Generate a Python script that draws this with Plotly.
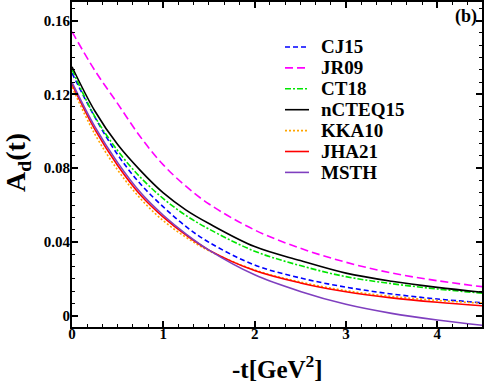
import plotly.graph_objects as go

# -t values [GeV^2]
t = [0, 0.25, 0.5, 0.75, 1.0, 1.25, 1.5, 2.0, 2.5, 3.0, 3.5, 4.0, 4.5]

cj15 = [0.1315, 0.1077, 0.0873, 0.0714, 0.0590, 0.0483, 0.0398, 0.0275, 0.0205, 0.0155, 0.0118, 0.0091, 0.0070]
jr09 = [0.1540, 0.1330, 0.1150, 0.0969, 0.0818, 0.0701, 0.0606, 0.0465, 0.0366, 0.0290, 0.0232, 0.0190, 0.0157]
ct18 = [0.1335, 0.1080, 0.0895, 0.0750, 0.0635, 0.0543, 0.0470, 0.0350, 0.0272, 0.0212, 0.0174, 0.0145, 0.0122]
ncteq15 = [0.1350, 0.1110, 0.0928, 0.0787, 0.0666, 0.0573, 0.0500, 0.0375, 0.0299, 0.0231, 0.0187, 0.0154, 0.0127]
kka10 = [0.1240, 0.0985, 0.0790, 0.0635, 0.0515, 0.0425, 0.0352, 0.0248, 0.0183, 0.0136, 0.0105, 0.0083, 0.0068]
jha21 = [0.1255, 0.1010, 0.0815, 0.0655, 0.0535, 0.0437, 0.0356, 0.0245, 0.0178, 0.0130, 0.0097, 0.0073, 0.0054]
msth = [0.1265, 0.1025, 0.0830, 0.0668, 0.0545, 0.0443, 0.0356, 0.0222, 0.0132, 0.0062, 0.0013, -0.0023, -0.0052]

x_ticks = [0, 1, 2, 3, 4]
x_ticktext = ["0", "1", "2", "3", "4"]
y_ticks = [0, 0.04, 0.08, 0.12, 0.16]
y_ticktext = ["0", "0.04", "0.08", "0.12", "0.16"]

series = [
    ("CJ15", cj15, "#0000ff", "5px,3px"),
    ("JR09", jr09, "#ff00ff", "8px,4px"),
    ("CT18", ct18, "#00e600", "6px,2px,2px,2px"),
    ("nCTEQ15", ncteq15, "#000000", "solid"),
    ("KKA10", kka10, "#ffa500", "2px,2px"),
    ("JHA21", jha21, "#ff0000", "solid"),
    ("MSTH", msth, "#7f3fbf", "solid"),
]

serif = "Liberation Serif, Times New Roman, serif"

# plot area in pixels: left 72, right 482, top 2, bottom 327
L, R, T, B = 72, 482, 2, 327
def px(x):
    return (x - L) / (R - L)
def py(y):
    return (B - y) / (B - T)

fig = go.Figure()
for name, vals, color, dash in series:
    fig.add_trace(go.Scatter(
        x=t, y=vals, name=name, mode="lines", showlegend=False,
        line=dict(color=color, width=1.6, dash=dash, shape="spline", smoothing=1.0),
    ))

axis_common = dict(
    showline=True, linecolor="black", linewidth=2, mirror="allticks",
    ticks="inside", ticklen=6, tickwidth=1.5, tickcolor="black",
    showgrid=False, zeroline=False, automargin=False,
    tickfont=dict(family=serif, size=15, color="black", weight="bold"),
)

fig.update_xaxes(
    range=[0, 4.49], tickvals=x_ticks, ticktext=x_ticktext, ticklabelstandoff=-8,
    minor=dict(ticks="inside", ticklen=3, tickwidth=1.2, tickcolor="black", tick0=0, dtick=1 / 6),
    **axis_common,
)
fig.update_yaxes(
    range=[-0.0061, 0.1701], tickvals=y_ticks, ticktext=y_ticktext, ticklabelstandoff=-3,
    minor=dict(ticks="inside", ticklen=3, tickwidth=1.2, tickcolor="black", tick0=0, dtick=0.04 / 6),
    **axis_common,
)

fig.add_annotation(
    text="A<sub>d</sub>(t)", textangle=-90, xref="paper", yref="paper",
    x=px(17), y=py(163), xanchor="center", yanchor="middle", showarrow=False,
    font=dict(family=serif, size=28, color="black", weight="bold"),
)
fig.add_annotation(
    text="-t[GeV<sup>2</sup>]", xref="paper", yref="paper",
    x=px(277), y=py(367), xanchor="center", yanchor="middle", showarrow=False,
    font=dict(family=serif, size=25, color="black", weight="bold"),
)
fig.add_annotation(
    text="(b)", xref="paper", yref="paper", x=px(479), y=py(17),
    xanchor="right", yanchor="middle", showarrow=False,
    font=dict(family=serif, size=18, color="black", weight="bold"),
)

# legend drawn by hand to match the entry spacing of the original
for i, (name, vals, color, dash) in enumerate(series):
    yc = 47 + i * 20.9
    fig.add_shape(
        type="line", xref="paper", yref="paper",
        x0=px(285), x1=px(309), y0=py(yc), y1=py(yc),
        line=dict(color=color, width=1.6, dash=dash),
    )
    fig.add_annotation(
        text=name, xref="paper", yref="paper", x=px(319), y=py(yc),
        xanchor="left", yanchor="middle", showarrow=False,
        font=dict(family=serif, size=19, color="black", weight="bold"),
    )

fig.update_layout(
    width=486, height=382,
    margin=dict(l=L, r=486 - R, t=T, b=382 - B),
    paper_bgcolor="white", plot_bgcolor="white",
    showlegend=False,
)

fig.write_html("out.html", config={"displayModeBar": False},
               post_script="document.body.style.margin='0';")
